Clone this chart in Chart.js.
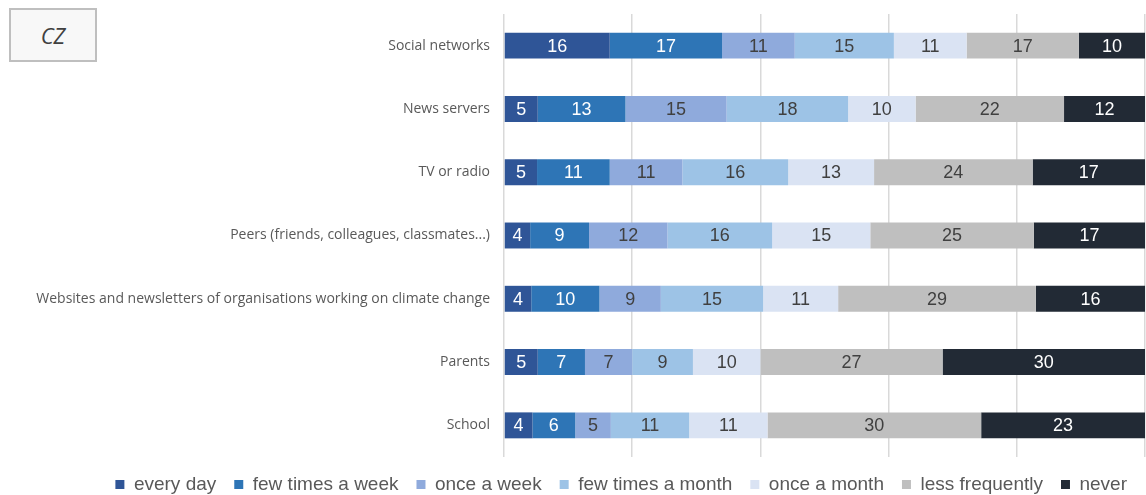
<!DOCTYPE html>
<html>
<head>
<meta charset="utf-8">
<script src="https://cdn.jsdelivr.net/npm/chart.js@4"></script>
<style>
  body { margin: 0; background: #fff; }
  #wrap { position: relative; width: 1146px; height: 495px; }
  #country {
    position: absolute; left: 9px; top: 8px; width: 84px; height: 50px;
    border: 2px solid #bfbfbf; background: #f8f8f8;
    font: italic 22px 'Open Sans', sans-serif; color: #404040;
    display: flex; align-items: center; justify-content: center;
  }
</style>
</head>
<body>
<div id="wrap">
  <canvas id="sources" width="1146" height="495"></canvas>
  <div id="country">CZ</div>
</div>
<script>
// Sources of climate information, CZ
var categories = [
  'Social networks',
  'News servers',
  'TV or radio',
  'Peers (friends, colleagues, classmates...)',
  'Websites and newsletters of organisations working on climate change',
  'Parents',
  'School',
];
var seriesNames = ['every day', 'few times a week', 'once a week', 'few times a month', 'once a month', 'less frequently', 'never'];
var everyDay = [16, 5, 5, 4, 4, 5, 4];
var fewTimesWeek = [17, 13, 11, 9, 10, 7, 6];
var onceWeek = [11, 15, 11, 12, 9, 7, 5];
var fewTimesMonth = [15, 18, 16, 16, 15, 9, 11];
var onceMonth = [11, 10, 13, 15, 11, 10, 11];
var lessFrequently = [17, 22, 24, 25, 29, 27, 30];
var never = [10, 12, 17, 17, 16, 30, 23];

var seriesValues = [everyDay, fewTimesWeek, onceWeek, fewTimesMonth, onceMonth, lessFrequently, never];
var colors = ['#2f5597', '#2e75b6', '#8faadc', '#9dc3e6', '#dae3f3', '#bfbfbf', '#222a35'];
var labelColors = ['#fff', '#fff', '#404040', '#404040', '#404040', '#404040', '#fff'];

// each row is stretched to 100%
var rowTotals = categories.map(function (c, i) {
  return seriesValues.reduce(function (s, arr) { return s + arr[i]; }, 0);
});

var datasets = seriesValues.map(function (values, k) {
  return {
    label: seriesNames[k],
    raw: values,
    data: values.map(function (v, i) { return (v / rowTotals[i]) * 100; }),
    backgroundColor: colors[k],
    borderWidth: 0,
    barPercentage: 0.41,
    categoryPercentage: 1,
  };
});

// value labels in the middle of each segment
var segmentLabels = {
  id: 'segmentLabels',
  afterDatasetsDraw: function (chart) {
    var ctx = chart.ctx;
    ctx.save();
    ctx.font = '18px "Liberation Sans", Arial, sans-serif';
    ctx.textAlign = 'center';
    ctx.textBaseline = 'middle';
    chart.data.datasets.forEach(function (ds, k) {
      chart.getDatasetMeta(k).data.forEach(function (bar, i) {
        var p = bar.getProps(['x', 'y', 'base'], true);
        ctx.fillStyle = labelColors[k];
        ctx.fillText(ds.raw[i], (p.x + p.base) / 2, p.y + 1);
      });
    });
    ctx.restore();
  },
};

// keep the legend strip short so the plot reaches down to it
var legendHeight = {
  id: 'legendHeight',
  beforeLayout: function (chart) {
    var legend = chart.legend;
    if (!legend || legend._patched) return;
    var fit = legend.fit;
    legend.fit = function () {
      fit.call(this);
      this.height = 38;
    };
    legend._patched = true;
  },
};

new Chart(document.getElementById('sources'), {
  type: 'bar',
  data: { labels: categories, datasets: datasets },
  plugins: [segmentLabels, legendHeight],
  options: {
    indexAxis: 'y',
    responsive: false,
    animation: false,
    layout: { padding: { top: 14, right: 1, left: 0, bottom: 0 } },
    scales: {
      x: {
        stacked: true,
        min: 0,
        max: 100,
        ticks: { display: false, stepSize: 20 },
        grid: { color: '#d9d9d9', lineWidth: 1.5, drawTicks: false },
        border: { display: false },
      },
      y: {
        stacked: true,
        grid: { display: false, drawTicks: false },
        border: { display: false },
        ticks: {
          padding: 14,
          color: '#595959',
          font: { family: '"Open Sans", sans-serif', size: 14 },
        },
        afterFit: function (scale) {
          scale.width = 504;
          scale.paddingTop = 0;
          scale.paddingBottom = 0;
        },
      },
    },
    plugins: {
      tooltip: { enabled: false },
      legend: {
        position: 'bottom',
        align: 'end',
        labels: {
          boxWidth: 9,
          boxHeight: 9,
          padding: 18,
          color: '#595959',
          font: { family: '"Liberation Sans", Arial, sans-serif', size: 19 },
        },
      },
    },
  },
});
</script>
</body>
</html>
